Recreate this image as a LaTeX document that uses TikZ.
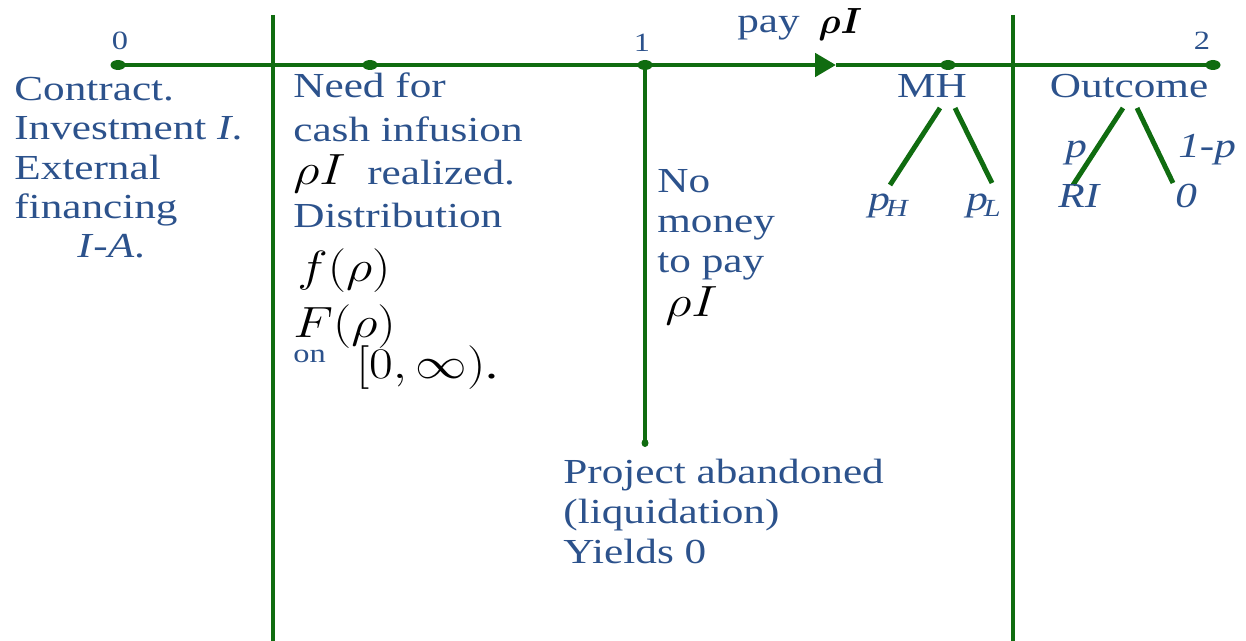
\documentclass[tikz,border=0pt]{standalone}
\usepackage{fontspec}
\setmainfont{Liberation Serif}[FakeStretch=1.23]
\usepackage{bm}
\usepackage{graphicx}
\usetikzlibrary{arrows.meta}

\definecolor{lgreen}{RGB}{16,108,16}
\definecolor{tblue}{RGB}{44,82,140}

% 公式稍微横向拉宽
\newcommand{\wmath}[1]{\scalebox{1.18}[1]{$#1$}}

\tikzset{
  tline/.style={lgreen, line width=2.8pt},
  lbl/.style={tblue, inner sep=0pt, anchor=base west, align=left,
    font=\fontsize{20}{22.6}\selectfont},
  mth/.style={black, inner sep=0pt, anchor=base west,
    font=\fontsize{24}{26}\selectfont},
  tick/.style={tblue, inner sep=0pt, anchor=base,
    font=\fontsize{15}{17}\selectfont},
}

\begin{document}
\begin{tikzpicture}[x=0.02cm, y=-0.02cm]
    \useasboundingbox (0,0) rectangle (1246,641);

    % 时间轴上的点
    \coordinate (t0) at (118,65);
    \coordinate (ta) at (370,65);
    \coordinate (t1) at (645,65);
    \coordinate (arr) at (836,65);
    \coordinate (tm) at (948,65);
    \coordinate (t2) at (1213,65);

    % === 时间轴 ===
    \draw[tline] (t0) -- (t1);
    \draw[tline, -{Triangle[length=0.42cm, width=0.46cm]}] (t1) -- (arr);
    \draw[tline] (arr) -- (t2);
    \foreach \p in {t0,ta,t1,tm,t2}
        \fill[lgreen] (\p) ellipse [x radius=7.5, y radius=5];

    % 两条竖直分隔线
    \coordinate (v1t) at (273,15);
    \coordinate (v1b) at (273,645);
    \coordinate (v2t) at (1013,15);
    \coordinate (v2b) at (1013,645);
    \draw[tline] (v1t) -- (v1b);
    \draw[tline] (v2t) -- (v2b);

    % 清算分支
    \coordinate (liq) at (645,443);
    \draw[tline] (t1) -- (liq);
    \fill[lgreen] (liq) ellipse [x radius=3.5, y radius=4];

    % 时刻标号
    \node[tick] (n0) at (120,50) {0};
    \node[tick] (n1) at (642,52) {1};
    \node[tick] (n2) at (1202,50) {2};
    \node[lbl] (pay) at (737,33) {pay};
    \node[mth, font=\fontsize{20}{22}\selectfont] (payI) at (818,34) {$\bm{\rho I}$};

    % === 各阶段说明文字（多行结点以最后一行的基线定位） ===
    \node[lbl, font=\fontsize{20}{22.4}\selectfont] (contract) at (14,258)
        {Contract.\\Investment \textit{I}.\\External\\financing\\\hspace*{1.26cm}\textit{I}-\textit{A}.};
    \node[lbl, font=\fontsize{20}{24.7}\selectfont] (need) at (293,228)
        {Need for\\cash infusion\\{\color{black}\fontsize{24}{26}\selectfont\wmath{\rho I}}\ \ realized.\\Distribution};
    \node[mth] (fr) at (297,282) {\wmath{f(\rho)}};
    \node[mth] (Fr) at (293,338) {\wmath{F(\rho)}};
    \node[lbl, font=\fontsize{15}{17}\selectfont] (on) at (293,362) {on};
    \node[mth] (dom) at (356,378) {\wmath{[0,\infty)}.};

    \node[lbl, font=\fontsize{20}{23}\selectfont] (nomoney) at (657,273) {No\\money\\to pay};
    \node[mth] (nmI) at (665,317) {\wmath{\rho I}};

    \node[lbl, font=\fontsize{20}{22.7}\selectfont] (aband) at (563,563)
        {Project abandoned\\(liquidation)\\Yields 0};

    % === 道德风险与结果 ===
    \node[lbl, anchor=base] (mh) at (932,98) {MH};
    \coordinate (mhL) at (940,108);
    \coordinate (mhR) at (955,108);
    \coordinate (phT) at (890,185);
    \coordinate (plT) at (992,183);
    \draw[tline] (mhL) -- (phT);
    \draw[tline] (mhR) -- (plT);
    \node[lbl] (ph) at (868,211) {$\mathit{p}_{\mathit{H}}$};
    \node[lbl] (pl) at (966,211) {$\mathit{p}_{\mathit{L}}$};

    \node[lbl, anchor=base] (out) at (1129,98) {Outcome};
    \coordinate (ouL) at (1123,108);
    \coordinate (ouR) at (1137,108);
    \coordinate (riT) at (1073,185);
    \coordinate (zeT) at (1173,183);
    \draw[tline] (ouL) -- (riT);
    \draw[tline] (ouR) -- (zeT);
    \node[lbl] (pp) at (1065,158) {\textit{p}};
    \node[lbl] (qq) at (1178,158) {\textit{1-p}};
    \node[lbl] (ri) at (1058,208) {\textit{RI}};
    \node[lbl] (ze) at (1175,208) {\textit{0}};
\end{tikzpicture}
\end{document}
